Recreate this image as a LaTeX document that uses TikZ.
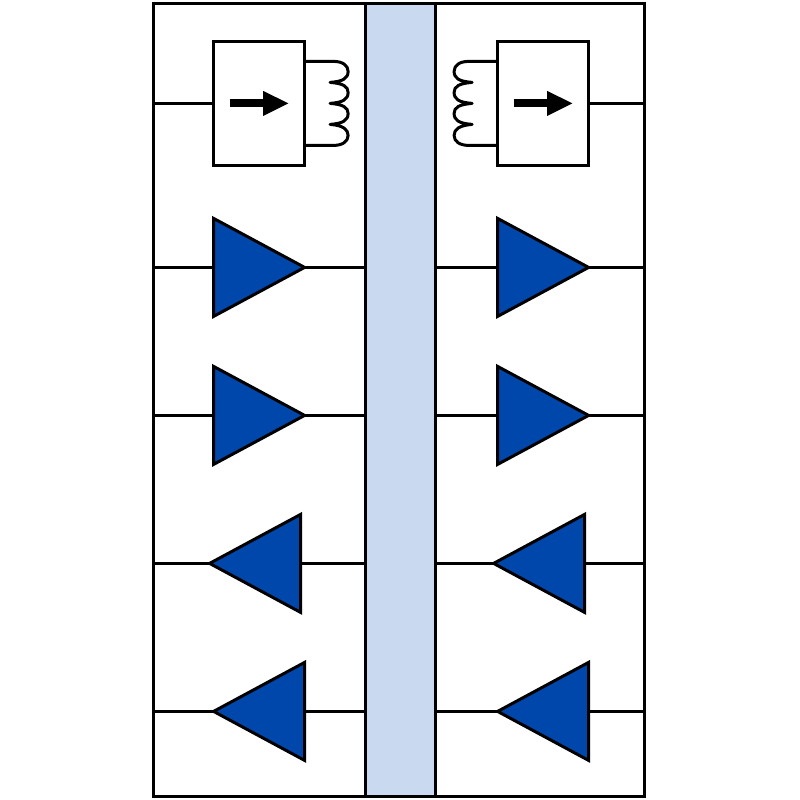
\documentclass[tikz,border=0pt]{standalone}
\usetikzlibrary{arrows.meta,shapes.geometric}
\definecolor{ampblue}{RGB}{0,71,171}
\definecolor{busblue}{RGB}{201,217,240}
\tikzset{
	wire/.style={line width=3pt,line cap=butt,line join=round},
	amp/.style={draw,line width=3pt,fill=ampblue,isosceles triangle,isosceles triangle stretches,inner sep=0pt,outer sep=0pt,minimum width=98pt,minimum height=91pt,anchor=lower side},
	srcbox/.style={draw,line width=3pt,fill=white,inner sep=0pt,outer sep=0pt,minimum width=91pt,minimum height=124pt},
	flow/.style={line width=8pt,-{Triangle[length=26pt,width=23pt]}}
}
\newcommand{\ramp}[3]{\node[amp,shape border rotate=0] (#3) at (#1,#2) {};}
\newcommand{\lamp}[3]{\node[amp,shape border rotate=180] (#3) at (#1,#2) {};}
\newcommand{\coil}[2]{\draw[wire,xscale=#2] (#1) -- ++(29,0)
	.. controls +(9,0) and +(0,-6) .. ++(14.5,10)
	.. controls +(0,7) and +(13,-1) .. ++(-18,11)
	.. controls +(13,1) and +(0,-6) .. ++(18,10)
	.. controls +(0,7) and +(13,-1) .. ++(-18,11)
	.. controls +(13,1) and +(0,-6) .. ++(18,10)
	.. controls +(0,7) and +(13,-1) .. ++(-18,11)
	.. controls +(13,1) and +(0,-6) .. ++(18,11)
	.. controls +(0,6) and +(9,0) .. ++(-14.5,10)
	-- ++(-29,0);}

\begin{document}
\begin{tikzpicture}[x=1pt,y=-1pt]
	\useasboundingbox (0.4,-0.4) rectangle (800.4,799.6);
	\node[draw,line width=3pt,inner sep=0pt,outer sep=0pt,minimum width=491pt,minimum height=793pt] (frame) at (399.5,399.5) {};
	\node[draw,line width=3pt,fill=busblue,inner sep=0pt,outer sep=0pt,minimum width=70pt,minimum height=793pt] (bus) at (401,399.5) {};
	% sources
	\node[srcbox] (lsrc) at (259.5,103) {};
	\node[srcbox] (rsrc) at (543.5,103) {};
	\draw[wire] (frame.west |- lsrc.west) -- (lsrc.west);
	\draw[wire] (rsrc.east) -- (frame.east |- rsrc.east);
	\draw[flow] ([xshift=-29.5pt]lsrc.center) -- ([xshift=30pt]lsrc.center);
	\draw[flow] ([xshift=-29.5pt]rsrc.center) -- ([xshift=30pt]rsrc.center);
	\coordinate (lcoil) at ([yshift=42pt]lsrc.east);
	\coordinate (rcoil) at ([yshift=42pt]rsrc.west);
	\coil{lcoil}{1}
	\coil{rcoil}{-1}
	% amplifiers
	\ramp{214}{267}{la} \ramp{214}{415}{lb} \lamp{301}{563}{lc} \lamp{305}{711}{ld}
	\ramp{498}{267}{ra} \ramp{498}{415}{rb} \lamp{585}{563}{rc} \lamp{589}{711}{rd}
	\foreach \n in {la,lb} {
		\draw[wire] (frame.west |- \n.lower side) -- (\n.lower side);
		\draw[wire] (\n.apex) -- (bus.west |- \n.apex);
	}
	\foreach \n in {lc,ld} {
		\draw[wire] (frame.west |- \n.apex) -- (\n.apex);
		\draw[wire] (\n.lower side) -- (bus.west |- \n.lower side);
	}
	\foreach \n in {ra,rb} {
		\draw[wire] (bus.east |- \n.lower side) -- (\n.lower side);
		\draw[wire] (\n.apex) -- (frame.east |- \n.apex);
	}
	\foreach \n in {rc,rd} {
		\draw[wire] (bus.east |- \n.apex) -- (\n.apex);
		\draw[wire] (\n.lower side) -- (frame.east |- \n.lower side);
	}
\end{tikzpicture}
\end{document}
